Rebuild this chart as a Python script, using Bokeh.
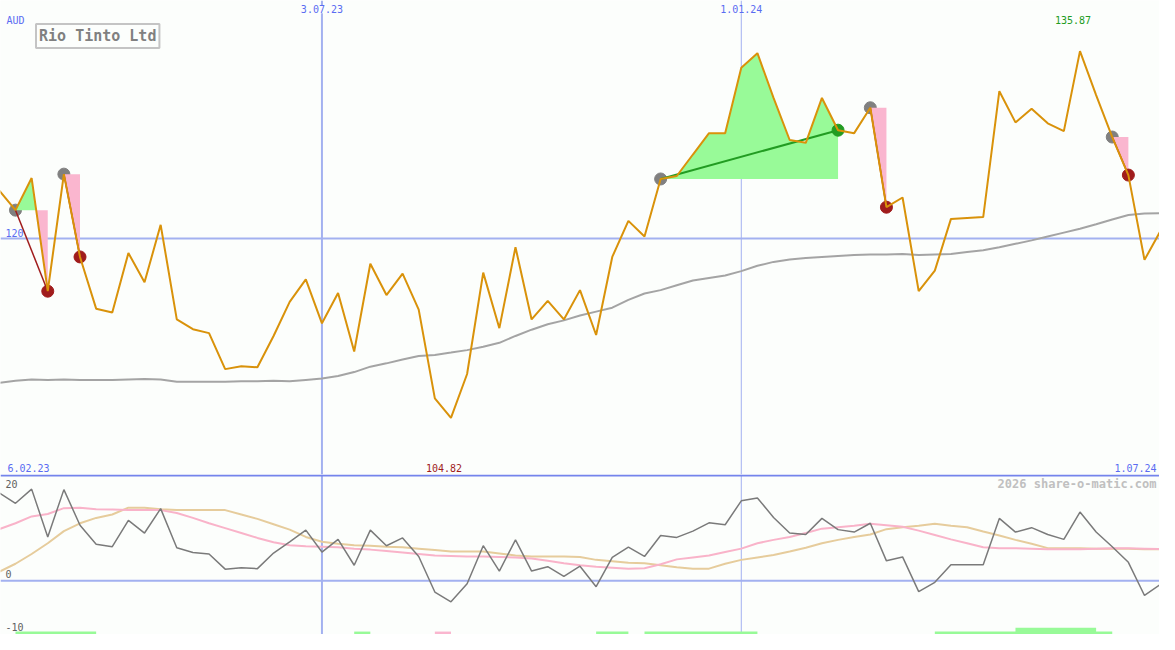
from bokeh.plotting import figure
from bokeh.models import Range1d, Span, Label
from bokeh.layouts import column
from bokeh.embed import file_html
from bokeh.resources import INLINE

# ---------------- data (weekly, index 0 .. 72) ----------------
close = [124.06, 122.41, 125.13, 115.55, 125.46, 118.45, 114.07, 113.74, 118.78, 116.30,
         121.17, 113.16, 112.33, 112.00, 108.95, 109.20, 109.11, 111.76, 114.65, 116.55,
         112.83, 115.39, 110.44, 117.87, 115.22, 117.04, 113.99, 106.47, 104.82, 108.54,
         117.12, 112.42, 119.27, 113.16, 114.73, 113.16, 115.64, 111.84, 118.45, 121.50,
         120.18, 125.05, 125.30, 127.12, 128.93, 128.93, 134.46, 135.70, 131.91, 128.35,
         128.11, 131.91, 129.18, 128.93, 131.08, 122.66, 123.48, 115.55, 117.29, 121.67,
         121.75, 121.83, 132.48, 129.84, 131.00, 129.76, 129.10, 135.87, 132.15, 128.60,
         125.38, 118.20, 120.67]

ma = [107.79, 107.96, 108.08, 108.04, 108.08, 108.04, 108.04, 108.04, 108.08, 108.12,
      108.08, 107.88, 107.88, 107.88, 107.88, 107.92, 107.92, 107.96, 107.92, 108.04,
      108.16, 108.37, 108.70, 109.16, 109.44, 109.77, 110.06, 110.15, 110.35, 110.56,
      110.85, 111.18, 111.76, 112.29, 112.75, 113.08, 113.49, 113.82, 114.15, 114.81,
      115.35, 115.64, 116.05, 116.46, 116.67, 116.88, 117.25, 117.70, 118.03, 118.24,
      118.36, 118.45, 118.53, 118.61, 118.65, 118.65, 118.69, 118.61, 118.65, 118.69,
      118.86, 119.02, 119.27, 119.56, 119.85, 120.18, 120.51, 120.84, 121.21, 121.62,
      122.00, 122.12, 122.16]

osc = [18.0, 15.9, 18.8, 9.0, 18.7, 11.4, 7.5, 7.0, 12.4, 9.8,
       14.8, 6.8, 5.8, 5.5, 2.4, 2.7, 2.5, 5.7, 8.0, 10.4,
       5.9, 8.5, 3.2, 10.4, 7.2, 8.8, 5.0, -2.3, -4.3, -0.6,
       7.2, 2.0, 8.4, 2.0, 2.9, 0.9, 3.0, -1.2, 4.8, 6.9,
       5.0, 9.3, 8.9, 10.2, 11.9, 11.5, 16.4, 17.0, 13.0, 9.8,
       9.5, 12.8, 10.5, 10.0, 11.8, 4.1, 4.9, -2.2, -0.3, 3.3,
       3.3, 3.3, 12.8, 10.0, 10.9, 9.5, 8.5, 14.1, 10.0, 7.0,
       3.8, -3.0, -0.7]

osc_pink = [10.6, 11.8, 13.2, 13.7, 14.9, 15.0, 14.7, 14.6, 14.5, 14.5,
            14.5, 13.9, 12.9, 11.8, 10.8, 9.8, 8.8, 7.9, 7.3, 7.1,
            7.0, 6.9, 6.6, 6.4, 6.1, 5.8, 5.5, 5.2, 5.1, 5.0,
            5.0, 4.9, 4.8, 4.6, 4.1, 3.6, 3.2, 2.9, 2.7, 2.5,
            2.6, 3.4, 4.4, 4.8, 5.2, 5.9, 6.6, 7.7, 8.4, 9.0,
            9.8, 10.7, 11.0, 11.3, 11.7, 11.4, 11.1, 10.3, 9.4, 8.5,
            7.7, 6.9, 6.7, 6.7, 6.6, 6.5, 6.5, 6.5, 6.6, 6.7,
            6.7, 6.6, 6.5]

osc_tan = [1.9, 3.5, 5.5, 7.7, 10.2, 11.8, 12.9, 13.6, 15.0, 15.0,
           14.7, 14.5, 14.5, 14.5, 14.5, 13.6, 12.7, 11.6, 10.5, 9.0,
           8.0, 7.6, 7.3, 7.2, 7.0, 6.9, 6.6, 6.3, 6.0, 6.0,
           6.0, 5.6, 5.2, 5.0, 5.0, 5.0, 4.9, 4.3, 4.0, 3.7,
           3.6, 3.2, 2.8, 2.5, 2.5, 3.5, 4.3, 4.8, 5.3, 6.0,
           6.8, 7.7, 8.4, 9.0, 9.5, 10.6, 11.0, 11.3, 11.7, 11.3,
           11.0, 10.1, 9.3, 8.4, 7.6, 6.7, 6.7, 6.7, 6.6, 6.6,
           6.6, 6.5, 6.5]

# trades: entry index -> exit index
trade_entry = [1, 4, 41, 54, 69]
trade_exit = [3, 5, 52, 55, 70]

# signal bars in lower panel (start index, end index, kind)
bar_start = [1, 22, 27, 37, 40, 58, 63]
bar_end = [6, 23, 28, 39, 47, 69, 68]
bar_kind = ["buy", "buy", "sell", "buy", "buy", "buy", "strong"]

date_idx = [20, 46]
date_text = ["3.07.23", "1.01.24"]
start_text = "6.02.23"
end_text = "1.07.24"
price_tick = 120
osc_ticks = [20, 0, -10]
currency = "AUD"
title = "Rio Tinto Ltd"
credit = "2026 share-o-matic.com"

# ---------------- styling ----------------
W, H = 1159, 634
kx, ky = W / 1175.0, H / 650.0
H1 = 474
H2 = H - H1

BG = "#fcfefc"
ORANGE = "#d9920a"
GRID = "#a3b1f0"
SEP = "#7484ec"
LBL = "#5a6cf2"
GFILL = "#98fa98"
PFILL = "#fab6cf"
GDARK = "#229c22"
RDARK = "#a01c1c"
GRAYC = "#808080"
MAGRAY = "#a4a4a4"
OSCC = "#7a7a7a"
PINKL = "#f9b3c9"
TANL = "#e6cc9c"
FONT = "DejaVu Sans Mono"

n = len(close)
xs_all = list(range(n))
xr = Range1d(0.07, 71.93)


def mkfig(h, y0, y1):
    f = figure(width=W, height=h, x_range=xr, y_range=Range1d(y0, y1),
               output_backend="svg", toolbar_location=None, min_border=0,
               background_fill_color=BG, border_fill_color=BG)
    f.axis.visible = False
    f.grid.visible = False
    f.outline_line_color = None
    return f


def top_sy(y):
    return H1 - y * ky


def bot_sy(y):
    return H2 - (y - 486) * ky


def lab(f, text, x, y, color, align="left", size="10px", bold=False,
        x_units="screen", x_offset=0, bg=None):
    f.add_layout(Label(x=x, y=y, x_units=x_units, y_units="screen", text=text,
                       text_color=color, text_font=FONT, text_font_size=size,
                       text_font_style="bold" if bold else "normal",
                       text_align=align, text_baseline="middle", x_offset=x_offset,
                       background_fill_color=bg))


# ---------------- top panel ----------------
p = mkfig(H1, 100.03, 140.16)

p.add_layout(Span(location=price_tick, dimension="width", line_color=GRID,
                  line_width=2, level="underlay"))
for d, w in zip(date_idx, [2, 1]):
    p.add_layout(Span(location=d, dimension="height", line_color=GRID,
                      line_width=w, level="underlay"))

p.line(xs_all, ma, line_color=MAGRAY, line_width=2)

# entry circles (under fills)
p.scatter(trade_entry, [close[i] for i in trade_entry], size=12, color=GRAYC)

# profit / loss fills between price and entry level
for a, b in zip(trade_entry, trade_exit):
    lvl = close[a]
    fx, fy = [a], [close[a]]
    for k in range(a, b):
        d0, d1 = close[k] - lvl, close[k + 1] - lvl
        if d0 * d1 < 0:
            t = d0 / (d0 - d1)
            fx.append(k + t)
            fy.append(lvl)
        fx.append(k + 1)
        fy.append(close[k + 1])
    up = [max(v, lvl) for v in fy]
    dn = [min(v, lvl) for v in fy]
    lv = [lvl] * len(fx)
    p.varea(x=fx, y1=lv, y2=up, fill_color=GFILL)
    p.varea(x=fx, y1=dn, y2=lv, fill_color=PFILL)

# exit circles
ex_col = [GDARK if close[b] > close[a] else RDARK for a, b in zip(trade_entry, trade_exit)]
p.scatter(trade_exit, [close[i] for i in trade_exit], size=12, color=ex_col)

# trade lines (under the price line)
for a, b, c in zip(trade_entry, trade_exit, ex_col):
    p.line([a, b], [close[a], close[b]], line_color=c, line_width=2 if c == GDARK else 1.5)

p.line(xs_all, close, line_color=ORANGE, line_width=2)

# labels
lab(p, currency, 6 * kx, top_sy(20), LBL)
for d, t in zip(date_idx, date_text):
    lab(p, t, d, top_sy(9), LBL, align="center", x_units="data", bg=BG)
lab(p, str(price_tick), 5 * kx, top_sy(238), LBL)
imax = close.index(max(close))
imin = close.index(min(close))
lab(p, f"{close[imax]:.2f}", imax, top_sy(20), GDARK, align="center",
    x_units="data", x_offset=-7)
lab(p, f"{close[imin]:.2f}", imin, top_sy(479), RDARK, align="center",
    x_units="data", x_offset=-7)
lab(p, start_text, 7 * kx, top_sy(479), LBL)
lab(p, end_text, 1172 * kx, top_sy(479), LBL, align="right")

p.add_layout(Label(x=36 * kx, y=top_sy(36.5), x_units="screen", y_units="screen",
                   text=title, text_color=GRAYC, text_font=FONT, text_font_size="15px",
                   text_font_style="bold", text_align="left", text_baseline="middle",
                   border_line_color="#c4c4c4", border_line_width=2,
                   background_fill_color=BG, padding=3))

# ---------------- bottom panel ----------------
q = mkfig(H2, -11.0, 21.8)
q.add_layout(Span(location=0, dimension="width", line_color=GRID,
                  line_width=2, level="underlay"))
for d, w in zip(date_idx, [2, 1]):
    q.add_layout(Span(location=d, dimension="height", line_color=GRID,
                      line_width=w, level="underlay"))
q.add_layout(Span(location=21.6, dimension="width", line_color=SEP, line_width=2))

q.line(xs_all, osc_tan, line_color=TANL, line_width=2)
q.line(xs_all, osc_pink, line_color=PINKL, line_width=2)
q.line(xs_all, osc, line_color=OSCC, line_width=1.5)

for s, e, k in zip(bar_start, bar_end, bar_kind):
    top = -9.6 if k == "strong" else -10.4
    q.quad(left=s, right=e, bottom=-11.2, top=top,
           fill_color=PFILL if k == "sell" else GFILL, line_color=None)

for t, yref in zip(osc_ticks, [496, 588, 642]):
    lab(q, str(t), 5 * kx, bot_sy(yref), "#606060")
lab(q, credit, 1172 * kx, bot_sy(496), "#c0c0c0", align="right", size="12px", bold=True)

layout = column(p, q, spacing=0)
open("out.html", "w").write(file_html(layout, INLINE))
